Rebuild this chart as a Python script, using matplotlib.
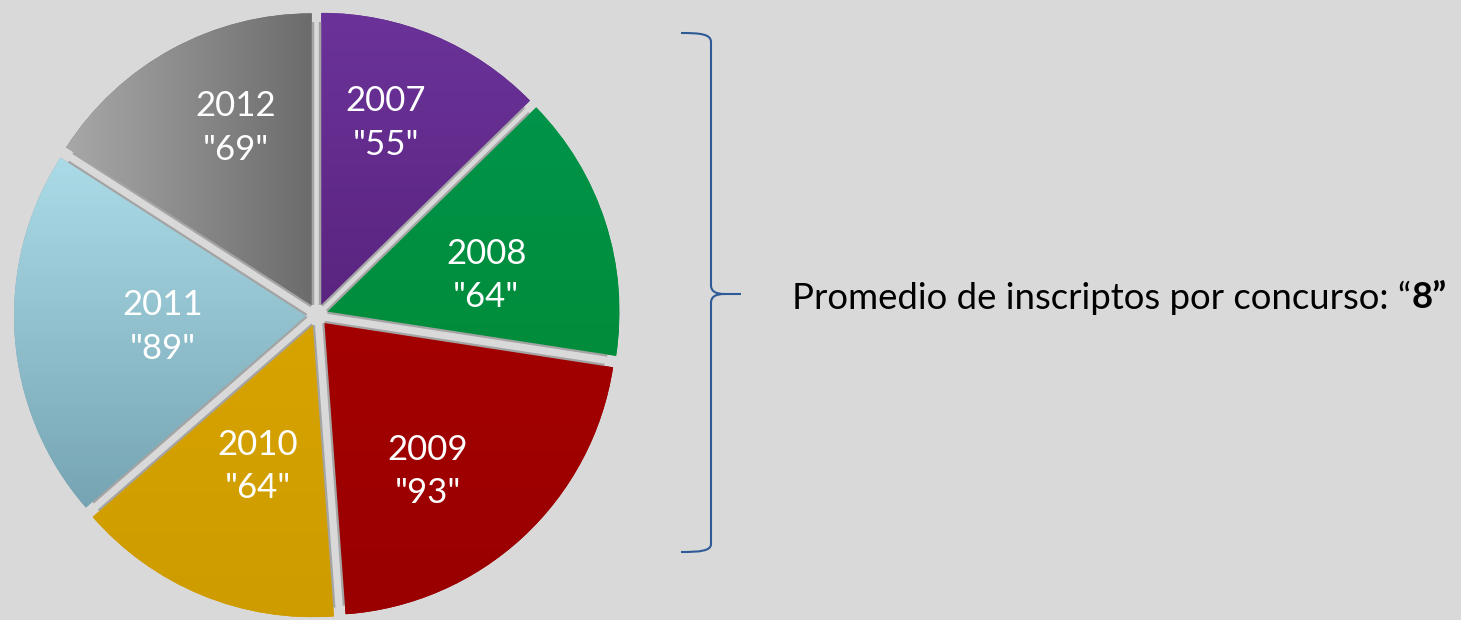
import numpy as np
import matplotlib
matplotlib.use("Agg")
import matplotlib.pyplot as plt
from matplotlib.path import Path
from matplotlib.patches import PathPatch
from matplotlib.colors import LinearSegmentedColormap

# data
years = ["2007", "2008", "2009", "2010", "2011", "2012"]
inscriptos = [55, 64, 93, 64, 89, 69]
promedio = "8"
texto = "Promedio de inscriptos por concurso: \u201c"

# style: two ends of each slice gradient + direction
color_a = ["#6b3399", "#00944a", "#a30000", "#d6a300", "#acdbe8", "#a8a8a8"]
color_b = ["#5a2480", "#008c3a", "#9a0000", "#cf9c00", "#76a4b2", "#6c6c6c"]
grad_dir = ["v", "v", "v", "v", "v", "h"]
# label placement: fraction of radius, angle nudge (deg)
label_r = [0.67, 0.56, 0.61, 0.51, 0.49, 0.67]
label_dt = [3.5, -4, -7.4, 0.6, -0.8, -5.8]

plt.rcParams["font.family"] = ["Lato", "DejaVu Sans"]

W, H = 1461, 620
fig = plt.figure(figsize=(W / 100, H / 100), dpi=100)
fig.patch.set_facecolor("#d9d9d9")
ax = fig.add_axes([0, 0, 1, 1])
ax.set_facecolor("#d9d9d9")

cx, cy, r = 317, H - 315, 292
labels = [f'{y}\n"{v}"' for y, v in zip(years, inscriptos)]
# explode is in data units here (pixels)
wedges, texts = ax.pie(inscriptos, labels=labels, center=(cx, cy), radius=r,
                       startangle=90, counterclock=False,
                       explode=[11] * len(inscriptos),
                       colors=color_b, labeldistance=0.6,
                       wedgeprops=dict(linewidth=0),
                       textprops=dict(color="white", fontsize=25))

# gradient fill clipped to each wedge, soft grey shadow on the cut edges
for w, a, b, d in zip(wedges, color_a, color_b, grad_dir):
    cmap = LinearSegmentedColormap.from_list("", [a, b])
    bb = w.get_path().get_extents()
    g = np.linspace(0, 1, 256)
    g = g.reshape(-1, 1) if d == "v" else g.reshape(1, -1)
    im = ax.imshow(g, cmap=cmap, extent=(bb.x0, bb.x1, bb.y0, bb.y1),
                   aspect="auto", zorder=2, interpolation="bilinear")
    im.set_clip_path(w)
    x0, y0 = w.center
    for ang in (w.theta1, w.theta2):
        t = np.deg2rad(ang)
        ax.plot([x0, x0 + 0.97 * r * np.cos(t)], [y0, y0 + 0.97 * r * np.sin(t)],
                color="#a4a4a4", lw=3.2, solid_capstyle="butt", zorder=1.5)

# place labels inside slices
for t, w, lr, dt in zip(texts, wedges, label_r, label_dt):
    th = np.deg2rad((w.theta1 + w.theta2) / 2 + dt)
    x0, y0 = w.center
    t.set_position((x0 + lr * r * np.cos(th), y0 + lr * r * np.sin(th) - 3))
    t.set_ha("center")
    t.set_va("center")
    t.set_linespacing(1.45)
    t.set_zorder(5)

# curly brace
def yy(v):
    return H - v

verts = [(681, yy(33)), (700, yy(33)), (711, yy(34)), (711, yy(42)),
         (711, yy(285)),
         (711, yy(291)), (715, yy(294)), (725, yy(294)),
         (741, yy(294)),
         (725, yy(294)),
         (715, yy(294)), (711, yy(297)), (711, yy(303)),
         (711, yy(544)),
         (711, yy(551)), (700, yy(552)), (681, yy(552))]
codes = [Path.MOVETO, Path.CURVE4, Path.CURVE4, Path.CURVE4,
         Path.LINETO,
         Path.CURVE4, Path.CURVE4, Path.CURVE4,
         Path.LINETO,
         Path.MOVETO,
         Path.CURVE4, Path.CURVE4, Path.CURVE4,
         Path.LINETO,
         Path.CURVE4, Path.CURVE4, Path.CURVE4]
ax.add_patch(PathPatch(Path(verts, codes), fill=False, edgecolor="#2e5a96",
                       linewidth=1.5))

ax.set_xlim(0, W)
ax.set_ylim(0, H)
ax.axis("off")

t1 = ax.text(792, yy(298), texto, fontsize=26.3, va="center", ha="left",
             color="black")
fig.canvas.draw()
bb = t1.get_window_extent().transformed(ax.transData.inverted())
ax.text(bb.x1, yy(298), promedio + "\u201d", fontsize=26.3, va="center",
        ha="left", color="black", fontweight="bold")

fig.savefig("out.png", dpi=100, facecolor=fig.get_facecolor())
